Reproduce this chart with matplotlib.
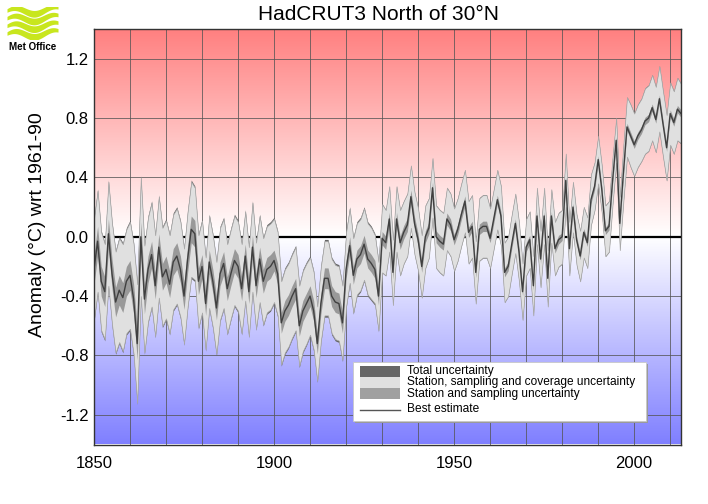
import numpy as np
import matplotlib
matplotlib.use("Agg")
from matplotlib import pyplot as plt
from matplotlib.patches import Rectangle
from matplotlib.lines import Line2D

plt.rcParams['font.family'] = ['Liberation Sans', 'DejaVu Sans']
plt.rcParams['axes.unicode_minus'] = False

# HadCRUT3 annual anomalies north of 30N
years = np.arange(1850, 2014)

best = [
    -0.22, -0.03, -0.30, -0.37, 0.02, -0.25, -0.44, -0.36, -0.41, -0.30,   # 1850s
    -0.26, -0.42, -0.72, 0.00, -0.42, -0.22, -0.12, -0.33, -0.07, -0.27,   # 1860s
    -0.22, -0.32, -0.17, -0.13, -0.22, -0.40, -0.15, 0.05, 0.02, -0.30,    # 1870s
    -0.20, -0.45, -0.17, -0.30, -0.48, -0.25, -0.18, -0.35, -0.25, -0.16,  # 1880s
    -0.20, -0.35, -0.13, -0.37, -0.07, -0.33, -0.15, -0.30, -0.22, -0.20,  # 1890s
    -0.16, -0.25, -0.58, -0.50, -0.46, -0.40, -0.35, -0.60, -0.50, -0.45,  # 1900s
    -0.40, -0.50, -0.72, -0.45, -0.28, -0.28, -0.40, -0.44, -0.45, -0.58,  # 1910s
    -0.22, -0.06, -0.26, -0.15, -0.12, -0.05, -0.15, -0.18, -0.22, -0.40,  # 1920s
    -0.01, -0.04, 0.12, -0.24, 0.12, -0.04, 0.03, 0.08, 0.27, 0.09,        # 1930s
    -0.02, -0.20, 0.00, 0.06, 0.33, 0.00, -0.03, -0.05, 0.12, 0.08,        # 1940s
    -0.02, 0.05, 0.15, 0.24, 0.03, 0.07, -0.24, 0.05, 0.07, 0.07,          # 1950s
    -0.01, 0.12, 0.25, 0.14, -0.24, -0.20, -0.05, 0.09, -0.10, -0.37,      # 1960s
    -0.07, -0.02, -0.33, 0.14, -0.15, 0.14, -0.28, 0.14, -0.08, -0.02,     # 1970s
    0.00, 0.38, -0.08, 0.20, -0.02, -0.13, 0.03, -0.04, 0.25, 0.34,        # 1980s
    0.52, 0.32, 0.04, 0.07, 0.38, 0.65, 0.09, 0.43, 0.74, 0.68,            # 1990s
    0.62, 0.68, 0.72, 0.78, 0.80, 0.87, 0.79, 0.93, 0.76, 0.60,            # 2000s
    0.83, 0.77, 0.86, 0.83,                                                # 2010s
]

# half widths of the station, sampling and coverage band
cov_hw = [
    0.34, 0.34, 0.33, 0.32, 0.35, 0.34, 0.34, 0.35, 0.36, 0.35,
    0.36, 0.37, 0.40, 0.40, 0.36, 0.35, 0.35, 0.34, 0.34, 0.33,
    0.33, 0.33, 0.32, 0.32, 0.32, 0.32, 0.32, 0.32, 0.31, 0.31,
    0.31, 0.31, 0.31, 0.31, 0.31, 0.31, 0.30, 0.30, 0.30, 0.30,
    0.30, 0.30, 0.30, 0.30, 0.30, 0.29, 0.29, 0.29, 0.29, 0.29,
    0.28, 0.28, 0.28, 0.28, 0.28, 0.28, 0.28, 0.27, 0.27, 0.27,
    0.26, 0.26, 0.25, 0.25, 0.25, 0.25, 0.25, 0.25, 0.25, 0.25,
    0.25, 0.25, 0.25, 0.24, 0.24, 0.24, 0.24, 0.24, 0.23, 0.23,
    0.23, 0.22, 0.22, 0.22, 0.22, 0.22, 0.21, 0.21, 0.21, 0.21,
    0.21, 0.21, 0.21, 0.20, 0.20, 0.21, 0.21, 0.21, 0.21, 0.21,
    0.21, 0.21, 0.21, 0.21, 0.21, 0.21, 0.21, 0.21, 0.21, 0.21,
    0.20, 0.20, 0.20, 0.20, 0.20, 0.20, 0.20, 0.20, 0.20, 0.19,
    0.19, 0.19, 0.20, 0.19, 0.19, 0.19, 0.19, 0.18, 0.18, 0.18,
    0.18, 0.18, 0.18, 0.17, 0.17, 0.17, 0.17, 0.17, 0.17, 0.16,
    0.16, 0.16, 0.17, 0.17, 0.16, 0.15, 0.18, 0.19, 0.20, 0.21,
    0.21, 0.21, 0.21, 0.22, 0.22, 0.22, 0.22, 0.22, 0.22, 0.22,
    0.21, 0.21, 0.21, 0.20,
]

# half widths of the station and sampling band
ss_hw = [
    0.10, 0.10, 0.10, 0.10, 0.10, 0.10, 0.10, 0.10, 0.10, 0.10,
    0.10, 0.10, 0.11, 0.10, 0.10, 0.09, 0.09, 0.09, 0.09, 0.09,
    0.09, 0.09, 0.09, 0.09, 0.09, 0.09, 0.09, 0.09, 0.09, 0.09,
    0.08, 0.08, 0.08, 0.08, 0.08, 0.08, 0.08, 0.08, 0.08, 0.08,
    0.08, 0.08, 0.08, 0.08, 0.08, 0.08, 0.08, 0.08, 0.08, 0.08,
    0.07, 0.07, 0.07, 0.07, 0.07, 0.07, 0.07, 0.07, 0.07, 0.07,
    0.07, 0.07, 0.07, 0.07, 0.07, 0.07, 0.07, 0.07, 0.07, 0.07,
    0.06, 0.06, 0.06, 0.06, 0.06, 0.06, 0.06, 0.06, 0.06, 0.06,
    0.045, 0.045, 0.045, 0.045, 0.045, 0.045, 0.045, 0.045, 0.045, 0.045,
    0.04, 0.04, 0.04, 0.04, 0.04, 0.04, 0.04, 0.04, 0.04, 0.04,
    0.035, 0.035, 0.035, 0.035, 0.035, 0.035, 0.035, 0.035, 0.035, 0.035,
    0.03, 0.03, 0.03, 0.03, 0.03, 0.03, 0.03, 0.03, 0.03, 0.03,
    0.03, 0.03, 0.03, 0.03, 0.03, 0.03, 0.03, 0.03, 0.03, 0.03,
    0.025, 0.025, 0.025, 0.025, 0.025, 0.025, 0.025, 0.025, 0.025, 0.025,
    0.025, 0.025, 0.025, 0.025, 0.025, 0.025, 0.025, 0.025, 0.025, 0.025,
    0.025, 0.025, 0.025, 0.025, 0.025, 0.025, 0.025, 0.025, 0.025, 0.025,
    0.025, 0.025, 0.025, 0.025,
]

# extra width of the total uncertainty beyond the coverage band
bias_extra = [0.012] * 80 + [0.004] * 84

yticks = [-1.2, -0.8, -0.4, 0.0, 0.4, 0.8, 1.2]
xticks = [1850, 1900, 1950, 2000]

best = np.array(best)
cov_hw = np.array(cov_hw)
ss_hw = np.array(ss_hw)
tot_hw = cov_hw + np.array(bias_extra)

W, H = 708, 504
fig = plt.figure(figsize=(W / 100, H / 100), dpi=100)
ax = fig.add_axes([94 / W, 1 - 444.5 / H, 587 / W, 415.5 / H])

x0, x1, y0, y1 = 1850, 2013, -1.4, 1.4

# red / white / blue background
v = np.linspace(y1, y0, 400)
f = np.clip(np.abs(v) / 1.4, 0, 1) * 0.5
bg = np.ones((400, 1, 3))
bg[v > 0, 0, 1] = 1 - f[v > 0]
bg[v > 0, 0, 2] = 1 - f[v > 0]
bg[v <= 0, 0, 0] = 1 - f[v <= 0]
bg[v <= 0, 0, 1] = 1 - f[v <= 0]
ax.imshow(bg, extent=[x0, x1, y0, y1], aspect='auto', zorder=0, interpolation='bilinear')

ax.set_xlim(x0, x1)
ax.set_ylim(y0, y1)
ax.set_xticks(xticks)
ax.set_xticks(np.arange(1860, 2013, 10), minor=True)
ax.set_yticks(yticks)
ax.set_yticklabels(['%.1f' % t for t in yticks])
ax.tick_params(axis='both', which='both', length=0, labelsize=12)
ax.tick_params(axis='x', pad=8)
ax.tick_params(axis='y', pad=4)
ax.grid(True, which='both', color='#555555', linewidth=0.55, zorder=1)
ax.set_axisbelow(True)
ax.axhline(0, color='black', linewidth=1.6, zorder=1.5)

ax.fill_between(years, best - tot_hw, best + tot_hw, color='#666666', linewidth=0, zorder=2)
ax.fill_between(years, best - cov_hw, best + cov_hw, facecolor='#e0e0e0',
                edgecolor='#a8a8a8', linewidth=0.5, zorder=3)
ax.fill_between(years, best - ss_hw, best + ss_hw, color='#999999', linewidth=0, zorder=4)
ax.plot(years, best, color='#404040', linewidth=1.0, zorder=5)

for s in ax.spines.values():
    s.set_color('#333333')
    s.set_linewidth(1.0)
    s.set_zorder(6)

ax.set_ylabel('Anomaly (\u00b0C) wrt 1961-90', fontsize=14)
ax.yaxis.set_label_coords(-0.082, 0.53)

fig.text(378 / W, 1 - 14 / H, 'HadCRUT3 North of 30\u00b0N', fontsize=15,
         ha='center', va='center')


# legend drawn by hand so the swatches touch
def fx(px):
    return px / W


def fy(py):
    return 1 - py / H


def box(xa, ya, xb, yb, **kw):
    r = Rectangle((fx(xa), fy(yb)), fx(xb) - fx(xa), fy(ya) - fy(yb),
                  transform=fig.transFigure, zorder=10, **kw)
    fig.add_artist(r)


box(355, 364, 648, 423, facecolor='#9a9a9a', edgecolor='none')
box(353, 362, 646, 421, facecolor='white', edgecolor='#c8c8c8', linewidth=0.6)
box(360, 366, 400, 377, facecolor='#666666', edgecolor='none')
box(360, 377, 400, 388, facecolor='#e0e0e0', edgecolor='none')
box(360, 388, 400, 398.5, facecolor='#a0a0a0', edgecolor='none')
fig.add_artist(Line2D([fx(360), fx(400)], [fy(410), fy(410)], color='#555555',
                      linewidth=1.0, transform=fig.transFigure, zorder=11))
labels = ['Total uncertainty', 'Station, sampling and coverage uncertainty',
          'Station and sampling uncertainty', 'Best estimate']
for lab, yy in zip(labels, [371, 382, 393.5, 409]):
    fig.text(fx(407), fy(yy), lab, fontsize=8.6, ha='left', va='center', zorder=11)

# Met Office logo
lax = fig.add_axes([7 / W, 1 - 39 / H, 51 / W, 32 / H])
lax.set_xlim(0, 1)
lax.set_ylim(0, 1)
lax.axis('off')
t = np.linspace(0, 1, 100)
for k in range(4):
    c = 0.86 - 0.24 * k + 0.10 * np.sin(2 * np.pi * (t * 1.3 + 0.05)) + 0.05 * t
    th = 0.055 + 0.05 * np.sin(np.pi * t)
    lax.fill_between(t, c - th, c + th, color='#c8e61e', linewidth=0)
fig.text(33 / W, 1 - 47 / H, 'Met Office', fontsize=7, fontweight='bold',
         ha='center', va='center')

fig.savefig('out.png', dpi=100)
